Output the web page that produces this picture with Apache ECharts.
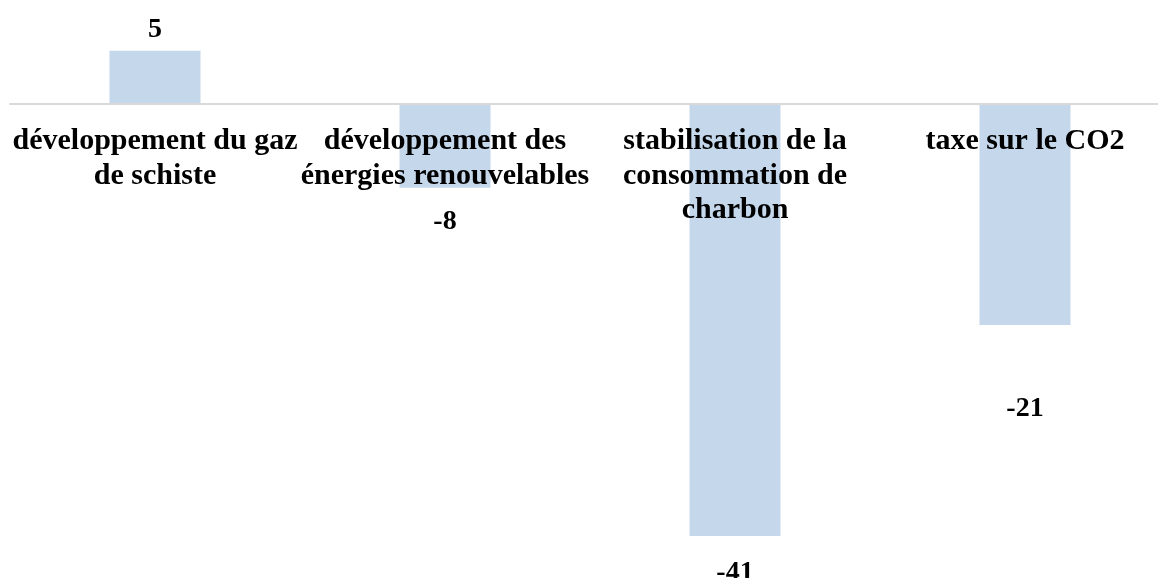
<!DOCTYPE html>
<html>
<head>
<meta charset="utf-8">
<script src="https://cdn.jsdelivr.net/npm/echarts@6/dist/echarts.min.js"></script>
<style>
html,body{margin:0;padding:0;background:#fff;}
#chart{width:1158px;height:578px;}
</style>
</head>
<body>
<div id="chart"></div>
<script>
const categories = [
  "développement du gaz\nde schiste",
  "développement des\nénergies renouvelables",
  "stabilisation de la\nconsommation de\ncharbon",
  "taxe sur le CO2"
];
const values = [5, -8, -41, -21];
const labelDistances = [7, 20, 23, 70];

const yMin = -41, yMax = 5;
const gridTop = 50.7, gridBottom = 42, H = 578;
const plotH = H - gridTop - gridBottom;
const zeroFromBottom = plotH * (0 - yMin) / (yMax - yMin);

const chart = echarts.init(document.getElementById('chart'));
const font = '"Liberation Serif", "Times New Roman", serif';
chart.setOption({
  animation: false,
  backgroundColor: '#ffffff',
  grid: { left: 10, right: -12, top: gridTop, bottom: gridBottom, containLabel: false, outerBoundsMode: 'none' },
  xAxis: {
    type: 'category',
    data: categories,
    position: 'bottom',
    offset: -zeroFromBottom,
    z: 10,
    axisLine: { show: true, onZero: false, lineStyle: { color: '#d9d9d9', width: 2 } },
    axisTick: { show: false },
    axisLabel: {
      interval: 0,
      margin: 21,
      color: '#000',
      fontFamily: font,
      fontWeight: 'bold',
      fontSize: 30,
      lineHeight: 34.5,
      align: 'center',
      hideOverlap: false
    },
    splitLine: { show: false }
  },
  yAxis: {
    type: 'value',
    min: yMin,
    max: yMax,
    show: false,
    splitLine: { show: false }
  },
  series: [{
    type: 'bar',
    z: 2,
    barWidth: 91,
    itemStyle: { color: '#c5d7eb' },
    data: values.map((v, i) => ({
      value: v,
      label: {
        show: true,
        position: v >= 0 ? 'top' : 'bottom',
        distance: labelDistances[i],
        color: '#000',
        fontFamily: font,
        fontWeight: 'bold',
        fontSize: 28
      }
    }))
  }]
});
</script>
</body>
</html>
